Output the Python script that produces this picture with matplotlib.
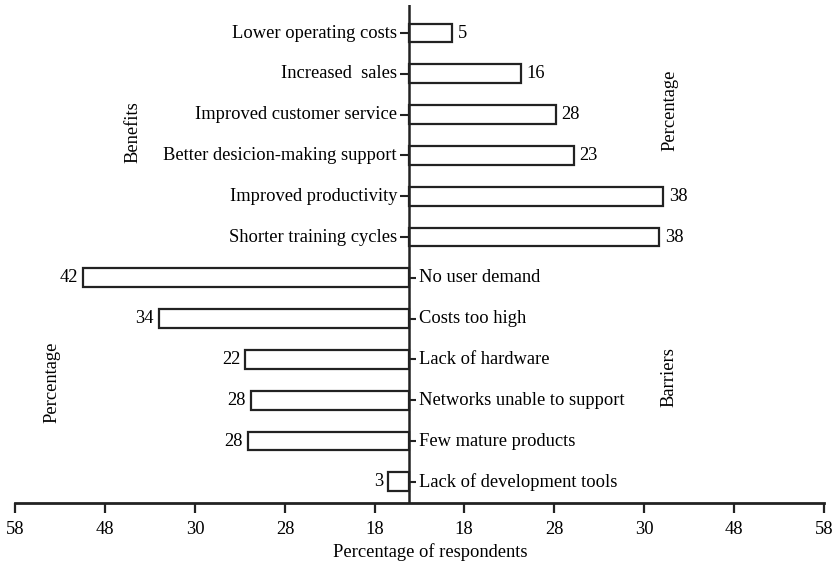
import matplotlib
matplotlib.use("Agg")
import matplotlib.pyplot as plt

# ---------------- data ----------------
benefit_labels = ["Lower operating costs", "Increased  sales", "Improved customer service",
                  "Better desicion-making support", "Improved productivity", "Shorter training cycles"]
benefit_values = ["5", "16", "28", "23", "38", "38"]          # printed numbers
benefit_bar = [4.8, 12.4, 16.3, 18.3, 28.2, 27.8]               # bar lengths as drawn (axis units)

barrier_labels = ["No user demand", "Costs too high", "Lack of hardware",
                  "Networks unable to support", "Few mature products", "Lack of development tools"]
barrier_values = ["42", "34", "22", "28", "28", "3"]
barrier_bar = [36.2, 27.8, 18.2, 17.6, 17.9, 2.3]

left_tick_labels = ["58", "48", "30", "28", "18"]
right_tick_labels = ["18", "28", "30", "48", "58"]

# ---------------- style ----------------
plt.rcParams['font.family'] = ['Liberation Serif', 'DejaVu Serif']
FS = 13.3
EDGE = '#222222'

W, H = 833, 565
fig = plt.figure(figsize=(W / 100, H / 100), dpi=100)
ax_left_px, ax_right_px, ax_top_px, ax_bot_px = 15, 824, 5, 503
ax = fig.add_axes([ax_left_px / W, (H - ax_bot_px) / H,
                   (ax_right_px - ax_left_px) / W, (ax_bot_px - ax_top_px) / H])

center_px = 409
unit = 9.0  # px per axis unit
xmin = (ax_left_px - center_px) / unit
xmax = (ax_right_px - center_px) / unit
ax.set_xlim(xmin, xmax)
row0, row_step = 33, 40.8
ax.set_ylim((ax_bot_px - row0) / row_step, (ax_top_px - row0) / row_step)

n_b = len(benefit_labels)
b_idx = list(range(n_b))
r_idx = list(range(n_b, n_b + len(barrier_labels)))
bh = 0.46

ax.barh(b_idx, benefit_bar, left=0, height=bh, color='white', edgecolor=EDGE, linewidth=1.6, zorder=2)
ax.barh(r_idx, [-v for v in barrier_bar], left=0, height=bh, color='white', edgecolor=EDGE,
        linewidth=1.6, zorder=2)

# central axis
ax.axvline(0, color=EDGE, lw=1.8, zorder=3)
ax.hlines(b_idx, -1.0, 0, color=EDGE, lw=1.5, zorder=3)
ax.hlines(r_idx, 0, 0.8, color=EDGE, lw=1.5, zorder=3)

for i, (lab, val, L) in enumerate(zip(benefit_labels, benefit_values, benefit_bar)):
    ax.annotate(lab, (-1.0, b_idx[i]), xytext=(-3, 0), textcoords='offset pixels',
                ha='right', va='center', fontsize=FS)
    ax.annotate(val, (L, b_idx[i]), xytext=(6, 0), textcoords='offset pixels',
                ha='left', va='center', fontsize=FS)
for i, (lab, val, L) in enumerate(zip(barrier_labels, barrier_values, barrier_bar)):
    ax.annotate(lab, (0.8, r_idx[i]), xytext=(3, 0), textcoords='offset pixels',
                ha='left', va='center', fontsize=FS)
    ax.annotate(val, (-L, r_idx[i]), xytext=(-5, 0), textcoords='offset pixels',
                ha='right', va='center', fontsize=FS)

# bottom axis
for s in ['top', 'right', 'left']:
    ax.spines[s].set_visible(False)
ax.spines['bottom'].set_linewidth(2.0)
ax.spines['bottom'].set_color(EDGE)
left_ticks = [xmin + 10 * k for k in range(len(left_tick_labels))]
right_ticks = [xmax - 10 * k for k in range(len(right_tick_labels))][::-1]
ax.set_xticks(left_ticks + right_ticks)
ax.set_xticklabels(left_tick_labels + right_tick_labels, fontsize=FS)
ax.tick_params(axis='x', direction='out', length=7, width=1.6, color=EDGE, pad=6)
ax.set_yticks([])

fig.text(430 / W, 1 - 552 / H, "Percentage of respondents", ha='center', va='center', fontsize=FS)
fig.text(133 / W, 1 - 132 / H, "Benefits", rotation=90, ha='center', va='center', fontsize=FS)
fig.text(670 / W, 1 - 110 / H, "Percentage", rotation=90, ha='center', va='center', fontsize=FS)
fig.text(52 / W, 1 - 382 / H, "Percentage", rotation=90, ha='center', va='center', fontsize=FS)
fig.text(669 / W, 1 - 377 / H, "Barriers", rotation=90, ha='center', va='center', fontsize=FS)

fig.savefig("out.png", dpi=100)
